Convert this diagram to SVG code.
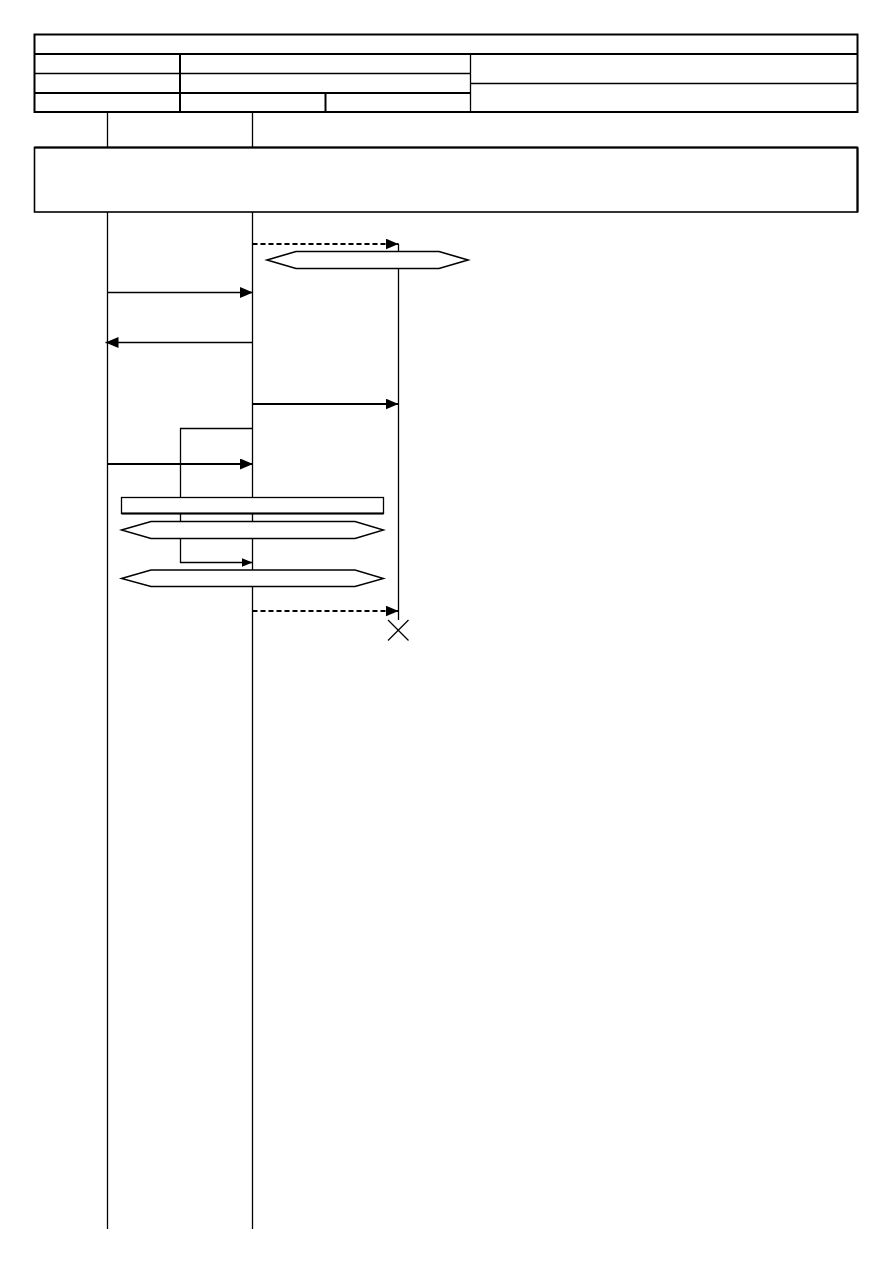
<svg xmlns="http://www.w3.org/2000/svg" width="893" height="1263" viewBox="0 0 893 1263">
<defs>
<style>
.ln{stroke:#000;stroke-width:1.3;fill:none}
.th{stroke:#000;stroke-width:2;fill:none}
.box{stroke:#000;stroke-width:1.3;fill:#fff}
.msg{stroke:#000;stroke-width:1.3;fill:none}
.msgb{stroke:#000;stroke-width:2;fill:none}
.dash{stroke:#000;stroke-width:2;fill:none;stroke-dasharray:5,3}
</style>
<marker id="ah" viewBox="0 0 13 11" refX="13" refY="5.5" markerWidth="13" markerHeight="11" markerUnits="userSpaceOnUse" orient="auto"><path d="M0,0 L13,5.5 L0,11 Z" fill="#000"/></marker>
<marker id="ahs" viewBox="0 0 11 9" refX="11" refY="4.5" markerWidth="11" markerHeight="9" markerUnits="userSpaceOnUse" orient="auto"><path d="M0,0 L11,4.5 L0,9 Z" fill="#000"/></marker>
</defs>
<rect width="893" height="1263" fill="#fff"/>
<g id="header">
<rect x="34.5" y="34.5" width="823" height="77.5" class="th"/>
<line x1="34.5" y1="54" x2="857.5" y2="54" class="th"/>
<line x1="34.5" y1="73.5" x2="470.5" y2="73.5" class="ln"/>
<line x1="34.5" y1="93" x2="470.5" y2="93" class="th"/>
<line x1="470.5" y1="83.5" x2="857.5" y2="83.5" class="ln"/>
<line x1="180" y1="54" x2="180" y2="112" class="th"/>
<line x1="325.5" y1="93" x2="325.5" y2="112" class="th"/>
<line x1="470.5" y1="54" x2="470.5" y2="112" class="ln"/>
</g>
<g id="lifeline-a"><line x1="107.5" y1="112" x2="107.5" y2="1229" class="ln"/></g>
<g id="lifeline-b"><line x1="252.5" y1="112" x2="252.5" y2="1229" class="ln"/></g>
<g id="note-box"><rect x="34.5" y="147.5" width="823" height="64.5" class="box" style="stroke-width:1.6"/><line x1="34.5" y1="147.5" x2="857.5" y2="147.5" class="th"/><line x1="857.5" y1="147.5" x2="857.5" y2="212" class="th"/></g>
<g id="lifeline-c"><line x1="398.5" y1="244" x2="398.5" y2="620" class="ln"/></g>
<g id="connectors">
<line x1="252.5" y1="244" x2="398.5" y2="244" class="dash" marker-end="url(#ah)"/>
<line x1="107.5" y1="292.5" x2="253" y2="292.5" class="msg" marker-end="url(#ah)"/>
<line x1="252.5" y1="342.5" x2="105.5" y2="342.5" class="msg" marker-end="url(#ah)"/>
<line x1="252.5" y1="404" x2="398.5" y2="404" class="msgb" marker-end="url(#ah)"/>
<polyline points="252.5,428.5 180.5,428.5 180.5,562.5 252.5,562.5" class="msg" marker-end="url(#ahs)"/>
<line x1="107.5" y1="464" x2="253" y2="464" class="msgb" marker-end="url(#ah)"/>
<line x1="252.5" y1="611" x2="398.5" y2="611" class="dash" marker-end="url(#ah)"/>
</g>
<g id="hex-1"><polygon points="267,260 296,251.5 439,251.5 468,260 439,268.5 296,268.5" class="box" style="stroke-width:1.6"/></g>
<g id="bar-1"><rect x="121.5" y="497.5" width="262" height="16" class="box"/><line x1="121.5" y1="513.5" x2="383.5" y2="513.5" class="th"/></g>
<g id="hex-2"><polygon points="121.5,530 151,521.5 355,521.5 383.5,530 355,538.5 151,538.5" class="box" style="stroke-width:1.4"/></g>
<g id="hex-3"><polygon points="121.5,578.5 151,570 355,570 383.5,578.5 355,586.5 151,586.5" class="box" style="stroke-width:1.4"/></g>
<g id="destroy"><line x1="388" y1="620" x2="408.5" y2="640.5" class="ln"/><line x1="408.5" y1="620" x2="388" y2="640.5" class="ln"/></g>
</svg>
